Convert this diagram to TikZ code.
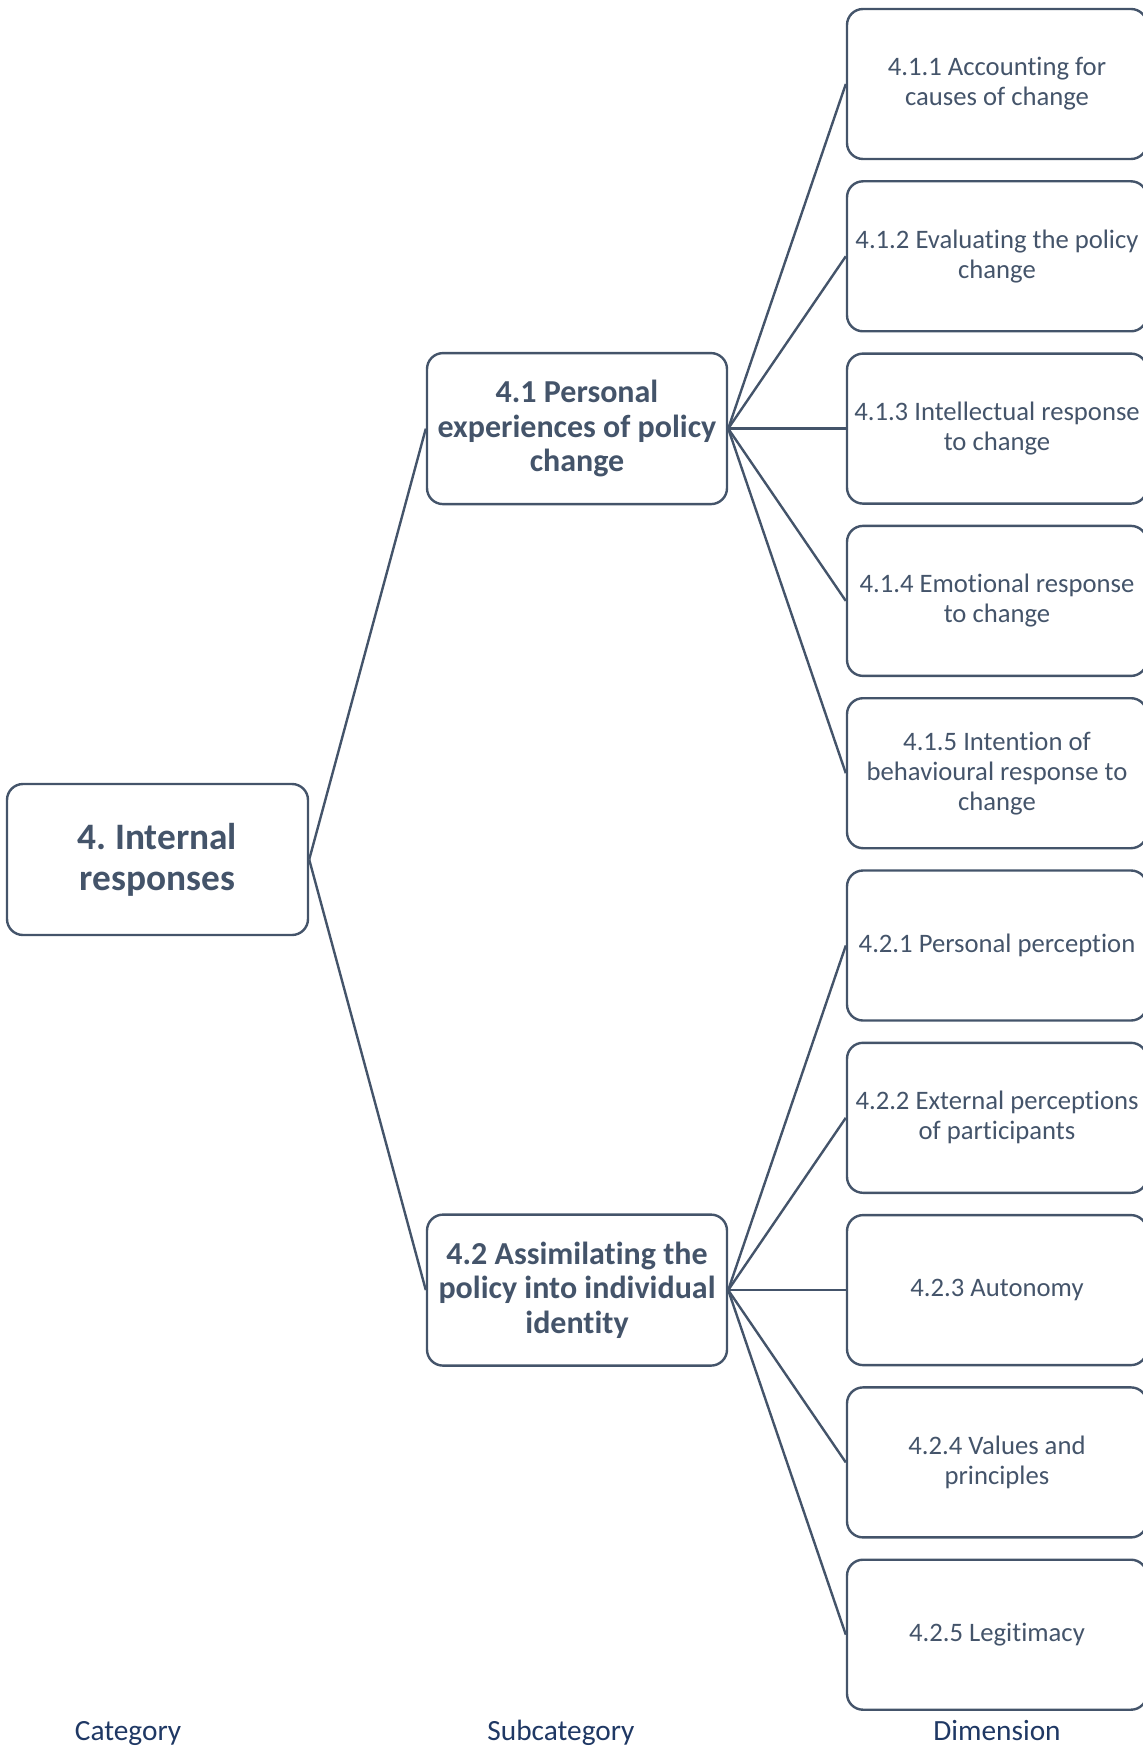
\documentclass[tikz,border=0pt]{standalone}
\usepackage{fontspec}
\setmainfont{Carlito}[Ligatures=NoCommon]
\frenchspacing
\definecolor{tx}{HTML}{44546A}
\definecolor{lab}{HTML}{1F3864}
\tikzset{
  box/.style={draw=tx, line width=1.8pt, rounded corners=12pt, text=tx, align=center, inner sep=0pt},
  rootbox/.style={box, minimum width=225.75pt, minimum height=113.25pt, font=\fontsize{28}{31}\selectfont\bfseries},
  subbox/.style={box, minimum width=225pt, minimum height=113.25pt, font=\fontsize{24}{26}\selectfont\bfseries},
  dimbox/.style={box, minimum width=225pt, minimum height=112.5pt, font=\fontsize{20}{22.5}\selectfont},
  link/.style={draw=tx, line width=1.8pt},
  collabel/.style={text=lab, font=\fontsize{22}{24}\selectfont, inner sep=0pt, anchor=base}
}
\begin{document}
\begin{tikzpicture}[x=0.75pt, y=-0.75pt]
\useasboundingbox (0,0) rectangle (1142,1747);
\node[rootbox] (root) at (157.5,859.5) {4. Internal\\responses};
\node[subbox] (s1) at (577,428.6) {4.1 Personal\\experiences of policy\\change};
\node[subbox] (s2) at (577,1290.1) {4.2 Assimilating the\\policy into individual\\identity};
\node[dimbox] (d1) at (997,84) {4.1.1 Accounting for\\causes of change};
\node[dimbox] (d2) at (997,256.3) {4.1.2 Evaluating the policy\\change};
\node[dimbox] (d3) at (997,428.6) {4.1.3 Intellectual response\\to change};
\node[dimbox] (d4) at (997,600.9) {4.1.4 Emotional response\\to change};
\node[dimbox] (d5) at (997,773.2) {4.1.5 Intention of\\behavioural response to\\change};
\node[dimbox] (d6) at (997,945.5) {4.2.1 Personal perception};
\node[dimbox] (d7) at (997,1117.8) {4.2.2 External perceptions\\of participants};
\node[dimbox] (d8) at (997,1290.1) {4.2.3 Autonomy};
\node[dimbox] (d9) at (997,1462.4) {4.2.4 Values and\\principles};
\node[dimbox] (d10) at (997,1634.7) {4.2.5 Legitimacy};
\draw[link] (root.east) -- (s1.west);
\draw[link] (root.east) -- (s2.west);
\foreach \i in {1,...,5} {\draw[link] (s1.east) -- (d\i.west);}
\foreach \i in {6,...,10} {\draw[link] (s2.east) -- (d\i.west);}
\node[collabel] (c1) at (128,1740) {Category};
\node[collabel] (c2) at (561,1740) {Subcategory};
\node[collabel] (c3) at (997,1740) {Dimension};
\end{tikzpicture}
\end{document}
